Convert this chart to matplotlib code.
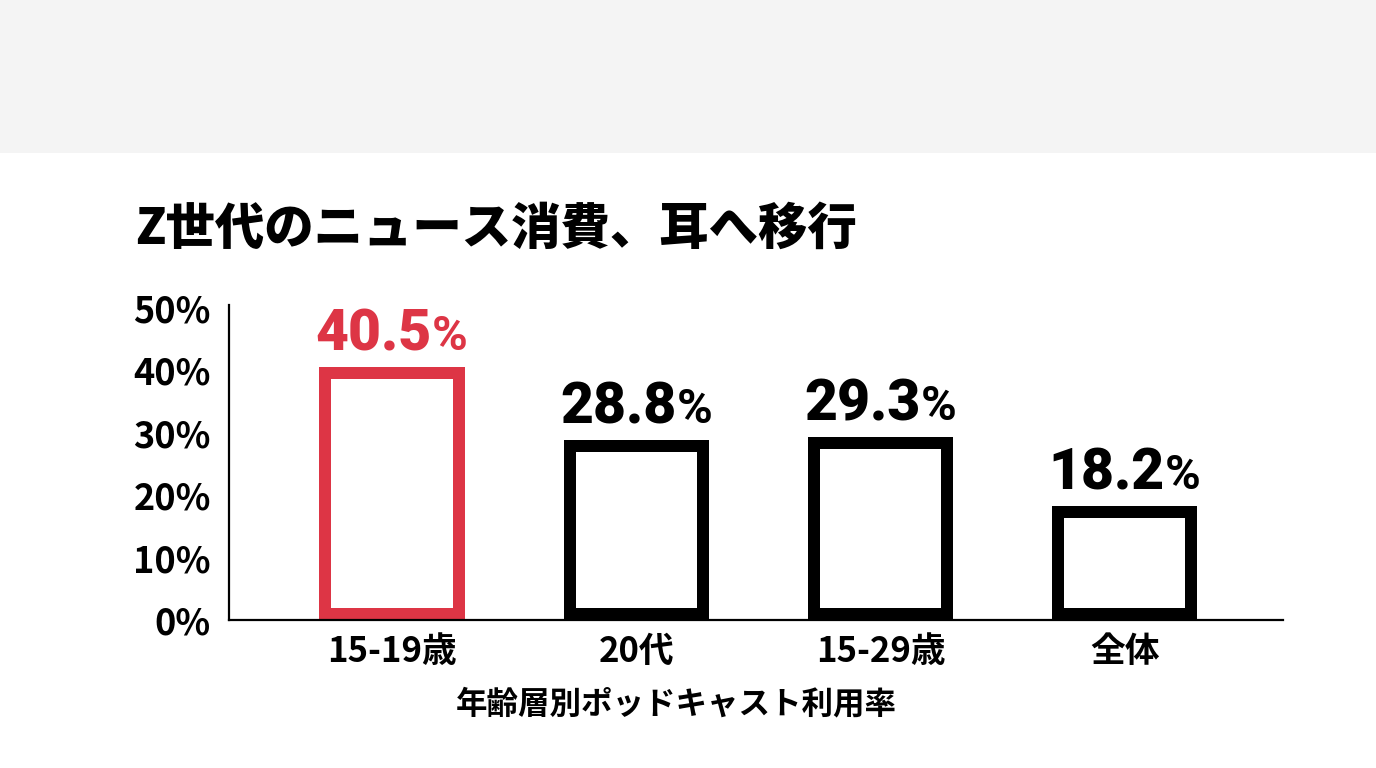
import matplotlib
matplotlib.use("Agg")
import matplotlib.pyplot as plt
from matplotlib.patches import Rectangle

plt.rcParams['font.family'] = ['Noto Sans CJK JP', 'DejaVu Sans']

categories = ["15-19歳", "20代", "15-29歳", "全体"]
values = [40.5, 28.8, 29.3, 18.2]
value_texts = ["40.5", "28.8", "29.3", "18.2"]
yticks = [0, 10, 20, 30, 40, 50]
ytick_labels = ["0%", "10%", "20%", "30%", "40%", "50%"]
title = "Z世代のニュース消費、耳へ移行"
xlabel = "年齢層別ポッドキャスト利用率"

RED = "#dd3545"
BLACK = "#000000"
colors = [RED, BLACK, BLACK, BLACK]

W, H, DPI = 13.76, 7.68, 100
fig = plt.figure(figsize=(W, H), dpi=DPI)
fig.patch.set_facecolor("white")

# top gray band
fig.patches.append(Rectangle((0, 1 - 153 / 768), 1, 153 / 768, transform=fig.transFigure,
                             facecolor="#f4f4f4", edgecolor="none", zorder=0))

ax_l, ax_r, ax_b, ax_t = 229, 1283, 620, 305
ax = fig.add_axes([ax_l / 1376, 1 - ax_b / 768, (ax_r - ax_l) / 1376, (ax_b - ax_t) / 768])
ax.set_facecolor("none")

xlim = (-0.667, 3.647)
ylim = (0, 50.5)
ax.set_xlim(*xlim)
ax.set_ylim(*ylim)

px_per_x = (ax_r - ax_l) / (xlim[1] - xlim[0])
px_per_y = (ax_b - ax_t) / (ylim[1] - ylim[0])

stroke_px = 12
outer_w = 0.594
half_x = (stroke_px / 2) / px_per_x
half_y = (stroke_px / 2) / px_per_y
x = list(range(len(categories)))

for xi, v, c in zip(x, values, colors):
    ax.bar(xi, v - 2 * half_y, bottom=half_y, width=outer_w - 2 * half_x,
           facecolor="none", edgecolor=c, linewidth=stroke_px * 72 / DPI,
           joinstyle="miter", zorder=3)

for sp in ["top", "right"]:
    ax.spines[sp].set_visible(False)
for sp in ["left", "bottom"]:
    ax.spines[sp].set_linewidth(1.6)
    ax.spines[sp].set_color("black")
ax.spines["bottom"].set_zorder(4)

ax.set_yticks(yticks)
ax.set_yticklabels(ytick_labels, fontsize=26, fontweight="bold")
ax.set_xticks(x)
ax.set_xticklabels(categories, fontsize=25, fontweight="bold")
ax.tick_params(axis="y", length=0, pad=13)
ax.tick_params(axis="x", length=0, pad=10)

# value labels: number + smaller %
fig.canvas.draw()
renderer = fig.canvas.get_renderer()
num_font = ["Roboto", "DejaVu Sans"]
for xi, v, t, c in zip(x, values, value_texts, colors):
    num = ax.annotate(t, xy=(xi, v), xytext=(0, 0), textcoords="offset pixels",
                      ha="left", va="baseline", fontsize=41, fontweight="heavy",
                      family=num_font, color=c, zorder=5)
    pct = ax.annotate("%", xy=(xi, v), xytext=(0, 0), textcoords="offset pixels",
                      ha="left", va="baseline", fontsize=35, fontweight="bold",
                      family=num_font, color=c, zorder=5)
    wn = num.get_window_extent(renderer).width
    wp = pct.get_window_extent(renderer).width
    gap = 0
    total = wn + wp + gap
    base = 17
    num.xyann = (-total / 2, base)
    pct.xyann = (-total / 2 + wn + gap, base)

fig.text(135 / 1376, 1 - 229 / 768, title, fontsize=35.6, fontweight="heavy",
         ha="left", va="center", color="black")
fig.text(676 / 1376, 1 - 704 / 768, xlabel, fontsize=22.7, fontweight="bold",
         ha="center", va="center", color="black")

fig.savefig("out.png", dpi=DPI)
